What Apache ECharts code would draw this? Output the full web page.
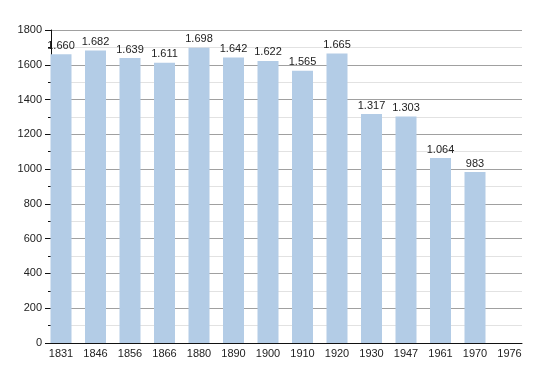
<!DOCTYPE html>
<html><head><meta charset="utf-8">
<script src="https://cdn.jsdelivr.net/npm/echarts@6/dist/echarts.min.js"></script>
<style>html,body{margin:0;padding:0;background:#fff}#c{width:550px;height:373px}</style>
</head><body><div id="c"></div>
<script>
var years = ['1831','1846','1856','1866','1880','1890','1900','1910','1920','1930','1947','1961','1970','1976'];
var population = [1660,1682,1639,1611,1698,1642,1622,1565,1665,1317,1303,1064,983,null];
var yTicks = {min:0, max:1800, interval:200};

function fmt(v){ return String(v).replace(/\B(?=(\d{3})+(?!\d))/g,'.'); }

var chart = echarts.init(document.getElementById('c'), null, {renderer:'canvas'});
var font = 'Liberation Sans, Arial, sans-serif';
chart.setOption({
  animation:false,
  grid:[
    {left:51, right:28, top:30, bottom:30},
    {left:43.75, right:23.25, top:30, bottom:30}
  ],
  xAxis:[
    {gridIndex:0, type:'category', data:years, axisLine:{show:true, lineStyle:{color:'#111', width:1}},
     axisTick:{show:false}, axisLabel:{show:false}, splitLine:{show:false}},
    {gridIndex:1, type:'category', data:years, boundaryGap:true, axisLine:{show:false}, axisTick:{show:false},
     axisLabel:{color:'#222', fontSize:11, fontFamily:font, margin:5, interval:0}}
  ],
  yAxis:[
    {gridIndex:0, type:'value', min:yTicks.min, max:yTicks.max, interval:yTicks.interval,
     axisLine:{show:true, lineStyle:{color:'#111'}},
     axisTick:{show:true, length:6, lineStyle:{color:'#111'}},
     minorTick:{show:true, splitNumber:2, length:3, lineStyle:{color:'#111'}},
     axisLabel:{color:'#222', fontSize:11, fontFamily:font, margin:9, formatter:function(v){return String(v);}},
     splitLine:{show:true, lineStyle:{color:'#a0a0a0', width:1}},
     minorSplitLine:{show:true, lineStyle:{color:'#e2e2e2', width:1}}},
    {gridIndex:1, type:'value', min:yTicks.min, max:yTicks.max, show:false}
  ],
  series:[{
    type:'bar', xAxisIndex:1, yAxisIndex:1, data:population, barWidth:21,
    itemStyle:{color:'#b3cce6'},
    label:{show:true, position:'top', distance:3, color:'#222', fontSize:11, fontFamily:font,
      formatter:function(p){ return p.value==null?'':fmt(p.value); }}
  }]
});
</script></body></html>
